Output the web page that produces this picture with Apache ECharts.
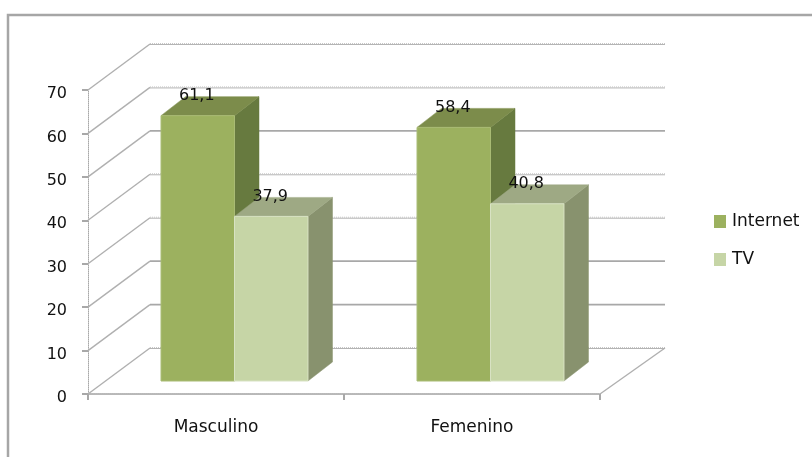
<!DOCTYPE html>
<html>
<head>
<meta charset="utf-8">
<style>html,body{margin:0;padding:0;background:#fff}#chart{width:812px;height:457px}</style>
<script src="https://cdn.jsdelivr.net/npm/echarts@6/dist/echarts.min.js"></script>
</head>
<body>
<div id="chart"></div>
<script>
// Chart data
const categories = ['Masculino', 'Femenino'];
const internetValues = [61.1, 58.4];
const tvValues = [37.9, 40.8];
const axisLevels = [0, 10, 20, 30, 40, 50, 60, 70];
const stippledLevels = [0, 30, 40, 60, 70];

// Pseudo-3D geometry, in pixels
const WALL_DX = 62, WALL_DY = -46;
const WALL_OVERHANG = 3;
const BAR_DX = 18.5, BAR_DY = -13;
const DEPTH_DX = 24.5, DEPTH_DY = -19;
const BAR_WIDTH_RATIO = 0.287;
const LINE_GRAY = '#a8a8a8';

const palettes = {
  Internet: { front: '#9cb15f', top: '#7c8c4b', side: '#677a3f', edge: '#a9bb74' },
  TV: { front: '#c6d5a6', top: '#9ea984', side: '#88926e', edge: '#d8e2c3' }
};

// One extruded bar: side and top faces, front face, then the value label
function barRenderer(name, side) {
  const pal = palettes[name];
  return function (params, api) {
    const cat = api.value(0), val = api.value(1);
    const top = api.coord([cat, val]);
    const base = api.coord([cat, 0]);
    const w = api.size([1, 0])[0] * BAR_WIDTH_RATIO;
    const x0 = top[0] + BAR_DX + (side < 0 ? -w : 0);
    const x1 = x0 + w;
    const yT = top[1] + BAR_DY;
    const yB = base[1] + BAR_DY;
    const poly = (points, fill) => ({
      type: 'polygon', shape: { points }, style: { fill, stroke: fill, lineWidth: 0.5 }
    });
    const label = String(val).replace('.', ',');
    return {
      type: 'group',
      children: [
        poly([[x1, yT], [x1 + DEPTH_DX, yT + DEPTH_DY], [x1 + DEPTH_DX, yB + DEPTH_DY], [x1, yB]], pal.side),
        poly([[x0, yT], [x0 + DEPTH_DX, yT + DEPTH_DY], [x1 + DEPTH_DX, yT + DEPTH_DY], [x1, yT]], pal.top),
        { type: 'rect', shape: { x: x0, y: yT, width: w, height: yB - yT },
          style: { fill: pal.front, stroke: pal.edge, lineWidth: 1 } },
        { type: 'text', z2: 50, style: {
            x: (x0 + x1) / 2 - 1, y: yT - 20, text: label, align: 'center', verticalAlign: 'middle',
            font: '16px "DejaVu Sans"', fill: '#111' } }
      ]
    };
  };
}

// Back-wall grid lines plus the diagonals running up the side wall
function wallRenderer(params, api) {
  const level = api.value(0);
  const a = api.coord([0, level]);
  const band = api.size([1, 0])[0];
  const x0 = a[0] - band / 2;
  const y = a[1];
  const xBack = x0 + WALL_DX;
  const xEnd = x0 + band * 2 + WALL_DX + WALL_OVERHANG;
  const yBack = y + WALL_DY;
  const children = [
    { type: 'line', shape: { x1: x0, y1: y, x2: xBack, y2: yBack },
      style: { stroke: '#b0b0b0', lineWidth: 1.4 } }
  ];
  if (stippledLevels.includes(level)) {
    children.push(
      { type: 'line', shape: { x1: xBack, y1: yBack + 0.5, x2: xEnd, y2: yBack + 0.5 },
        style: { stroke: '#b4b4b4', lineWidth: 1 } },
      { type: 'line', shape: { x1: xBack, y1: yBack - 0.5, x2: xEnd, y2: yBack - 0.5 },
        style: { stroke: '#c8c8c8', lineWidth: 1, lineDash: [1, 1] } }
    );
  } else {
    children.push({ type: 'line', shape: { x1: xBack, y1: yBack, x2: xEnd, y2: yBack },
      style: { stroke: LINE_GRAY, lineWidth: 1.8 } });
  }
  if (level === 0) {
    children.push({ type: 'line',
      shape: { x1: x0 + band * 2, y1: y, x2: xEnd, y2: yBack },
      style: { stroke: '#b0b0b0', lineWidth: 1.4 } });
  }
  return { type: 'group', children };
}

const chart = echarts.init(document.getElementById('chart'), null, { renderer: 'canvas' });
chart.setOption({
  animation: false,
  backgroundColor: '#fff',
  graphic: [{
    type: 'rect', silent: true, z: -1,
    shape: { x: 8, y: 15, width: 900, height: 600 },
    style: { fill: 'none', stroke: '#a6a6a6', lineWidth: 2.5 }
  }],
  grid: { left: 88, top: 90, width: 512, height: 304 },
  legend: {
    orient: 'vertical', left: 714, top: 213, padding: 0, itemWidth: 12, itemHeight: 13, itemGap: 21,
    icon: 'rect', data: ['Internet', 'TV'],
    textStyle: { fontFamily: 'DejaVu Sans', fontSize: 17, color: '#111', padding: [0, 0, 0, 1] }
  },
  xAxis: {
    type: 'category', data: categories,
    axisLine: { lineStyle: { color: '#b8b8b8', width: 2, type: [1, 1] } },
    axisTick: { show: true, length: 6, lineStyle: { color: LINE_GRAY, width: 2 } },
    axisLabel: { margin: 25, fontFamily: 'DejaVu Sans', fontSize: 17, color: '#111' }
  },
  yAxis: {
    type: 'value', min: 0, max: 70, interval: 10,
    splitLine: { show: false },
    axisLine: { show: true, lineStyle: { color: LINE_GRAY, width: 1, type: [1, 1] } },
    axisTick: { show: true, length: 6, lineStyle: { color: LINE_GRAY, width: 2 } },
    axisLabel: { margin: 21, fontFamily: 'DejaVu Sans', fontSize: 16, color: '#111', verticalAlign: 'top', lineHeight: 8 }
  },
  series: [
    { type: 'custom', z: 1, silent: true, renderItem: wallRenderer,
      data: axisLevels.map(v => [v]), encode: { y: 0 } },
    { name: 'Internet', type: 'custom', z: 2, renderItem: barRenderer('Internet', -1),
      itemStyle: { color: palettes.Internet.front },
      data: internetValues.map((v, i) => [i, v]), encode: { x: 0, y: 1 } },
    { name: 'TV', type: 'custom', z: 3, renderItem: barRenderer('TV', 1),
      itemStyle: { color: palettes.TV.front },
      data: tvValues.map((v, i) => [i, v]), encode: { x: 0, y: 1 } }
  ]
});
</script>
</body>
</html>
